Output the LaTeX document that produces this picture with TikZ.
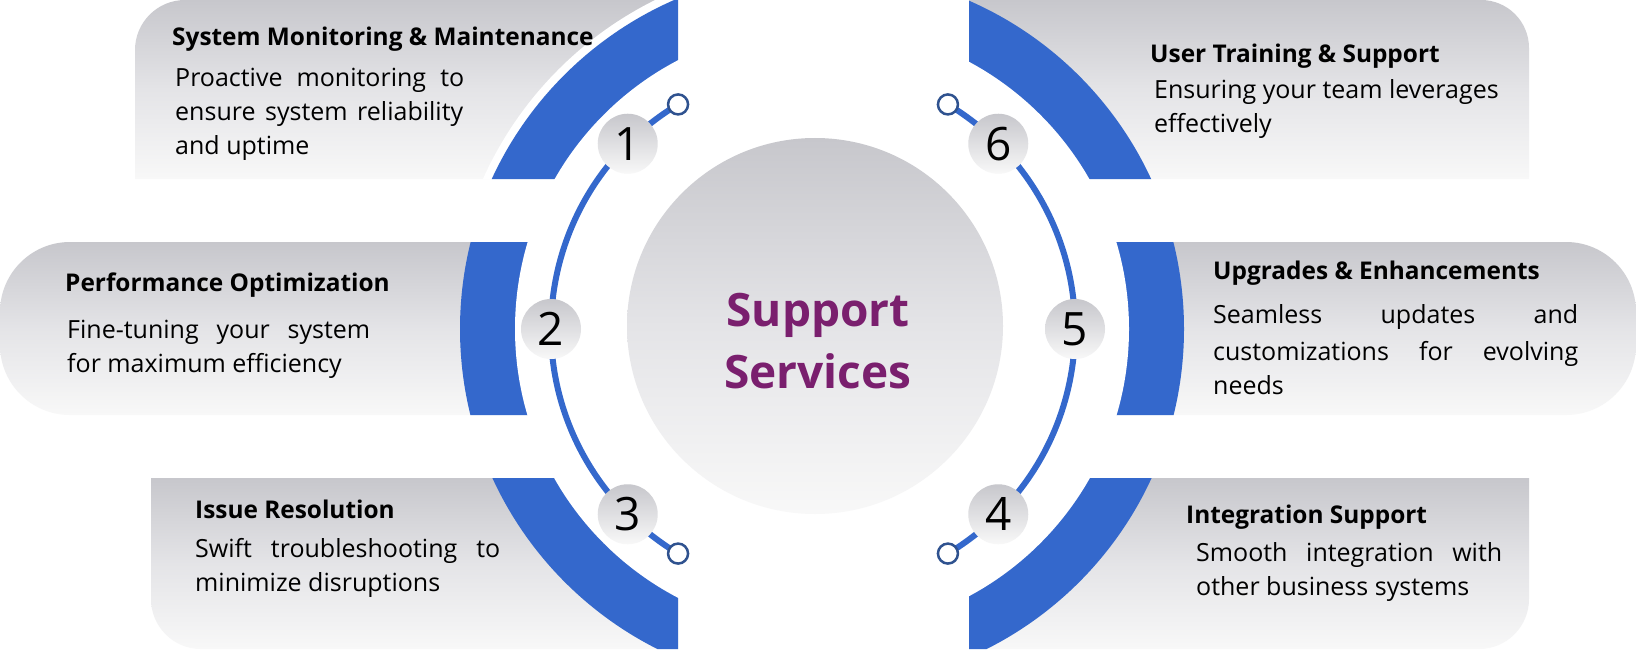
\documentclass[tikz,border=0pt]{standalone}
\usepackage{fontspec}
\setmainfont{Open Sans}
\usetikzlibrary{calc}
\definecolor{bandblue}{RGB}{52,104,204}
\definecolor{gtop}{RGB}{199,199,204}
\definecolor{gmid}{RGB}{228,228,231}
\definecolor{gbot}{RGB}{248,248,248}
\definecolor{ttl}{RGB}{122,31,110}
\definecolor{ringedge}{RGB}{47,82,143}
\begin{document}
\begin{tikzpicture}[x=1pt,y=1pt,
  boxfill/.style={top color=gtop, bottom color=gbot, middle color=gmid, draw=none},
  ttlfont/.style={font=\bfseries\fontsize{24.4}{28}\selectfont, anchor=base west, inner sep=0pt, text=black},
  bodyfont/.style={font=\fontsize{25}{30}\selectfont, anchor=base west, inner sep=0pt, text=black},
  badge/.style={circle, minimum size=60pt, inner sep=0pt, top color=gtop, bottom color=gbot, font=\fontsize{46}{50}\selectfont},
  endcirc/.style={circle, minimum size=20pt, inner sep=0pt, draw=ringedge, line width=2.5pt, fill=white},
  ringline/.style={draw=bandblue, line width=6pt}]
\useasboundingbox (0,0) rectangle (1636,-650);
\fill[white] (0,0) rectangle (1636,-650);
\coordinate (BL) at (818,-329);
\coordinate (BR) at (826,-329);
\coordinate (R) at (813,-329);
% box 1
\begin{scope}
  \shade[boxfill] (678,0) -- (185,0) arc[start angle=90,end angle=180,radius=50] -- (135,-179) -- (678,-179) -- cycle;
  \clip (678,0) -- (185,0) arc[start angle=90,end angle=180,radius=50] -- (135,-179) -- (678,-179) -- cycle;
  \fill[white] (BL) circle[radius=367];
  \fill[bandblue] (BL) circle[radius=359];
\end{scope}
% box 2
\begin{scope}
  \shade[boxfill] (600,-242) -- (70,-242) arc[start angle=90,end angle=180,radius=70] -- (0,-345) arc[start angle=180,end angle=270,radius=70] -- (600,-415) -- cycle;
  \clip (600,-242) -- (70,-242) arc[start angle=90,end angle=180,radius=70] -- (0,-345) arc[start angle=180,end angle=270,radius=70] -- (600,-415) -- cycle;
  \fill[bandblue] (BL) circle[radius=358];
\end{scope}
% box 3
\begin{scope}
  \shade[boxfill] (678,-478) -- (151,-478) -- (151,-599) arc[start angle=180,end angle=270,radius=50] -- (678,-649) -- cycle;
  \clip (678,-478) -- (151,-478) -- (151,-599) arc[start angle=180,end angle=270,radius=50] -- (678,-649) -- cycle;
  \fill[bandblue] (BL) circle[radius=358];
\end{scope}
% box 6
\begin{scope}
  \shade[boxfill] (969,0) -- (1481,0) arc[start angle=90,end angle=0,radius=48] -- (1529,-179) -- (969,-179) -- cycle;
  \clip (969,0) -- (1481,0) arc[start angle=90,end angle=0,radius=48] -- (1529,-179) -- (969,-179) -- cycle;
  \fill[bandblue] (BR) circle[radius=358];
\end{scope}
% box 5
\begin{scope}
  \shade[boxfill] (1000,-242) -- (1566,-242) arc[start angle=90,end angle=0,radius=70] -- (1636,-345) arc[start angle=0,end angle=-90,radius=70] -- (1000,-415) -- cycle;
  \clip (1000,-242) -- (1566,-242) arc[start angle=90,end angle=0,radius=70] -- (1636,-345) arc[start angle=0,end angle=-90,radius=70] -- (1000,-415) -- cycle;
  \fill[bandblue] (BR) circle[radius=358];
\end{scope}
% box 4
\begin{scope}
  \shade[boxfill] (969,-478) -- (1529,-478) -- (1529,-599) arc[start angle=0,end angle=-90,radius=50] -- (969,-649) -- cycle;
  \clip (969,-478) -- (1529,-478) -- (1529,-599) arc[start angle=0,end angle=-90,radius=50] -- (969,-649) -- cycle;
  \fill[bandblue] (BR) circle[radius=358];
\end{scope}
\fill[white] (BL) circle[radius=303];
\fill[white] (BR) circle[radius=303];
% central disk
\node[circle, minimum size=376pt, inner sep=0pt, top color=gtop, bottom color=gbot, middle color=gmid] (core) at (815,-326) {};
\node[font=\bfseries\fontsize{46}{62}\selectfont, text=ttl, align=center, inner sep=0pt] (coretxt) at (818,-341) {Support\\Services};
% thin ring
\draw[ringline] ($(R)+(121:262)$) arc[start angle=121, end angle=239, radius=262];
\draw[ringline] ($(R)+(-59:262)$) arc[start angle=-59, end angle=59, radius=262];
\node[endcirc] (e1) at ($(R)+(121:262)$) {};
\node[endcirc] (e3) at ($(R)+(239:262)$) {};
\node[endcirc] (e6) at ($(R)+(59:262)$) {};
\node[endcirc] (e4) at ($(R)+(-59:262)$) {};
\node[badge] (n1) at ($(R)+(135:262)$) {1};
\node[badge] (n2) at ($(R)+(180:262)$) {2};
\node[badge] (n3) at ($(R)+(225:262)$) {3};
\node[badge] (n6) at ($(R)+(45:262)$) {6};
\node[badge] (n5) at ($(R)+(0:262)$) {5};
\node[badge] (n4) at ($(R)+(-45:262)$) {4};
% texts box 1
\node[ttlfont] (t1) at (172,-46) {System Monitoring \& Maintenance};
\node[bodyfont] (d1a) at (175,-87) {\hbox to 289pt{Proactive\hfill\ monitoring\hfill\ to}};
\node[bodyfont] (d1b) at (175,-121) {\hbox to 288pt{ensure\hfill\ system\hfill\ reliability}};
\node[bodyfont] (d1c) at (175,-155) {and uptime};
% box 2
\node[ttlfont] (t2) at (65,-291) {Performance Optimization};
\node[bodyfont] (d2a) at (67,-338) {\hbox to 303pt{Fine-tuning\hfill\ your\hfill\ system}};
\node[bodyfont] (d2b) at (67,-372) {for maximum efficiency};
% box 3
\node[ttlfont] (t3) at (195,-518) {Issue Resolution};
\node[bodyfont] (d3a) at (195,-557) {\hbox to 305pt{Swift\hfill\ troubleshooting\hfill\ to}};
\node[bodyfont] (d3b) at (195,-591) {minimize disruptions};
% box 6
\node[ttlfont] (t6) at (1150,-63) {User Training \& Support};
\node[bodyfont] (d6a) at (1154,-99) {Ensuring your team leverages};
\node[bodyfont] (d6b) at (1154,-133) {effectively};
% box 5
\node[ttlfont] (t5) at (1213,-279) {Upgrades \& Enhancements};
\node[bodyfont] (d5a) at (1213,-323) {\hbox to 365pt{Seamless\hfill\ updates\hfill\ and}};
\node[bodyfont] (d5b) at (1213,-360) {\hbox to 365pt{customizations\hfill\ for\hfill\ evolving}};
\node[bodyfont] (d5c) at (1213,-394) {needs};
% box 4
\node[ttlfont] (t4) at (1186,-523) {Integration Support};
\node[bodyfont] (d4a) at (1196,-561) {\hbox to 306pt{Smooth\hfill\ integration\hfill\ with}};
\node[bodyfont] (d4b) at (1196,-595) {other business systems};
\end{tikzpicture}
\end{document}
